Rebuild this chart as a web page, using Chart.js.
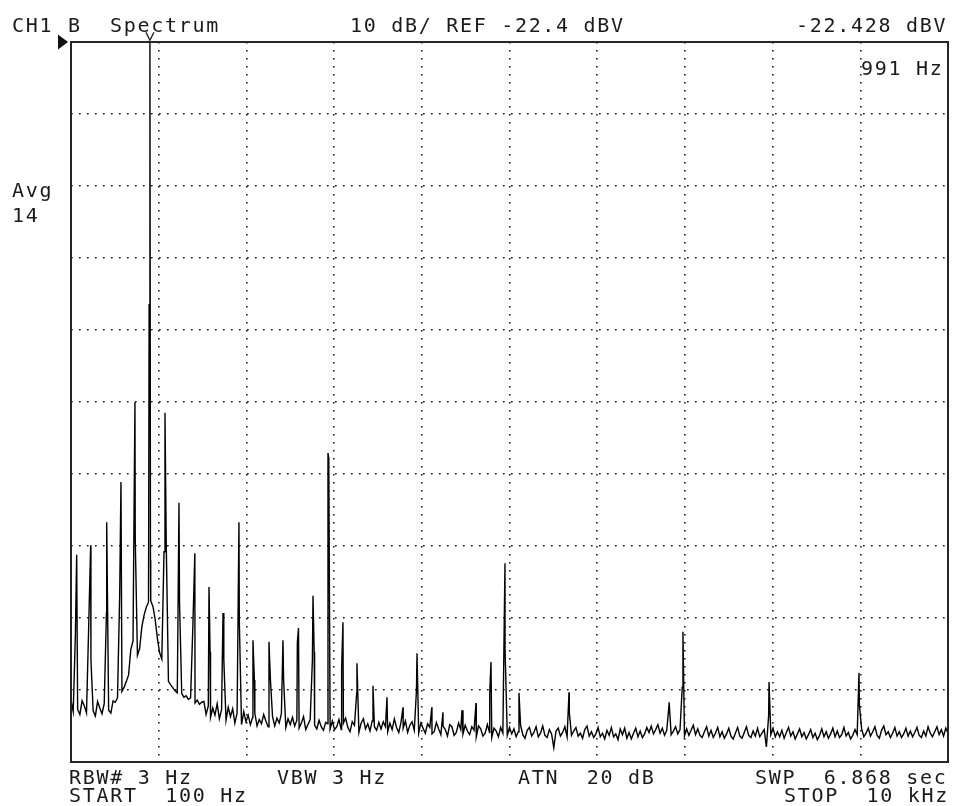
<!DOCTYPE html>
<html>
<head>
<meta charset="utf-8">
<script src="https://cdn.jsdelivr.net/npm/chart.js@4/dist/chart.umd.min.js"></script>
<style>html,body{margin:0;padding:0;background:#fff}canvas{display:block}</style>
</head>
<body>
<canvas id="c" width="953" height="806"></canvas>
<script>
// ---- data (HP-style spectrum screen) ----
const startHz = 100;
const stopHz = 10000;
const floorStepHz = 25;
// trace level every 25 Hz from 100 Hz to 10 kHz (dBV)
const floorDbv = [
 -113.8,-115.4,-104.5,-115.1,-115.8,-113.9,-114.6,-115.6,-103.4,-108.2,-115.3,-116.0,-114.0,-114.9,-115.7,-114.3,-101.7,-115.2,-115.6,-113.9,
 -114.1,-113.5,-98.9,-112.6,-112.0,-111.2,-110.3,-106.8,-105.6,-91.3,-107.6,-106.6,-103.6,-102.0,-100.9,-100.2,-100.0,-100.8,-102.6,-105.2,
 -107.2,-108.1,-93.2,-92.0,-111.2,-111.7,-112.1,-112.5,-112.8,-100.2,-112.9,-113.4,-113.2,-113.7,-113.5,-103.8,-114.2,-113.8,-114.4,-114.1,
 -114.0,-115.8,-114.6,-116.2,-114.9,-115.9,-114.3,-116.4,-115.1,-108.2,-116.6,-114.8,-116.1,-115.0,-117.0,-115.6,-102.7,-117.2,-115.4,-116.8,
 -115.9,-117.2,-116.2,-115.6,-117.4,-116.5,-117.1,-115.8,-116.7,-117.5,-110.7,-116.1,-117.4,-116.3,-117.0,-115.7,-111.0,-117.6,-116.4,-117.2,
 -116.2,-117.4,-116.6,-117.7,-117.0,-116.1,-117.9,-117.2,-116.5,-108.2,-117.3,-117.8,-116.6,-117.5,-118.0,-116.9,-117.1,-117.8,-116.7,-117.9,
 -117.5,-116.5,-117.9,-117.0,-116.3,-117.6,-118.2,-116.8,-117.3,-112.8,-118.3,-117.0,-116.4,-117.8,-117.1,-118.1,-116.7,-117.5,-118.0,-116.9,
 -117.8,-116.8,-117.5,-118.2,-117.0,-117.9,-116.4,-117.6,-118.3,-116.9,-117.7,-116.7,-118.3,-117.3,-116.8,-118.0,-112.4,-118.4,-117.0,-117.7,
 -118.4,-117.1,-117.6,-118.5,-118.2,-116.9,-117.8,-118.6,-117.4,-117.9,-118.8,-117.2,-117.5,-118.7,-118.3,-117.0,-117.9,-118.5,-117.3,-118.1,
 -118.6,-117.5,-118.0,-118.9,-117.4,-117.8,-118.8,-118.4,-117.2,-118.3,-119.0,-117.7,-118.1,-118.9,-117.6,-118.4,-106.8,-118.7,-117.6,-118.5,
 -117.8,-118.9,-118.2,-117.3,-118.6,-119.1,-118.0,-117.6,-118.8,-118.3,-117.5,-118.9,-118.4,-117.4,-118.7,-119.0,-117.9,-118.5,-120.4,-118.1,
 -117.7,-118.8,-118.3,-117.5,-118.9,-115.5,-118.7,-118.1,-117.6,-118.8,-118.4,-119.1,-117.9,-117.4,-118.8,-118.2,-119.0,-118.5,-117.6,-118.9,
 -118.4,-119.2,-118.0,-118.7,-117.6,-118.9,-118.5,-119.3,-117.8,-118.6,-117.7,-119.1,-118.3,-119.2,-118.4,-117.7,-118.9,-118.1,-119.0,-118.5,
 -117.6,-118.3,-117.4,-118.5,-117.9,-117.2,-118.4,-117.7,-118.7,-118.0,-114.6,-118.6,-118.1,-117.5,-118.5,-117.9,-112.0,-118.8,-117.8,-118.7,
 -118.0,-117.3,-118.6,-117.8,-118.7,-119.0,-118.2,-117.5,-118.8,-118.0,-119.0,-118.4,-117.6,-118.9,-118.2,-119.1,-118.5,-117.7,-118.8,-119.2,
 -118.4,-117.6,-118.8,-119.1,-118.3,-117.5,-118.7,-119.0,-118.1,-118.8,-117.7,-118.9,-118.4,-117.9,-120.3,-116.0,-118.6,-117.7,-118.9,-118.2,
 -118.9,-118.0,-119.1,-118.3,-117.6,-118.8,-118.2,-119.2,-118.5,-117.8,-118.9,-118.3,-119.2,-118.6,-117.9,-119.0,-118.4,-119.3,-118.7,-117.8,
 -118.9,-118.2,-119.1,-118.5,-117.7,-118.9,-118.1,-119.0,-118.6,-117.6,-118.8,-118.3,-119.2,-118.7,-117.9,-118.6,-114.5,-117.8,-118.9,-118.4,
 -117.7,-118.8,-118.2,-117.5,-118.7,-119.1,-118.0,-117.4,-118.6,-118.2,-119.0,-118.4,-117.6,-118.8,-118.2,-119.0,-118.5,-117.7,-118.8,-118.1,
 -118.9,-118.3,-117.6,-118.7,-119.0,-118.1,-118.8,-117.5,-118.4,-118.9,-118.2,-117.5,-118.6,-117.9,-118.8,-117.7,-118.4
];
// discrete spectral lines (Hz, dBV)
const peakHz = [164,322,503,664,822,982,991,997,1161,1319,1498,1658,1670,1816,1996,2154,2170,2335,2493,2655,2668,2832,2845,3001,3010,3155,3170,3328,3509,3667,3848,4006,4173,4299,4514,4672,4827,4841,4999,5157,5722,6852,7008,7980,8995];
const peakDbv = [-93.6,-92.3,-89.1,-83.5,-72.4,-58.9,-22.43,-94.3,-73.9,-86.4,-93.4,-98.1,-107.1,-101.7,-89.1,-105.5,-111.0,-105.7,-105.5,-105.8,-103.8,-99.3,-107.1,-79.5,-80.2,-109.2,-103.0,-108.7,-111.8,-113.4,-114.8,-107.3,-114.8,-115.5,-115.2,-114.2,-112.8,-108.5,-94.8,-112.8,-112.7,-114.1,-104.3,-111.3,-110.0];
const xTickHz = [100,1090,2080,3070,4060,5050,6040,7030,8020,9010,10000];
const yTickDbv = [-122.4,-112.4,-102.4,-92.4,-82.4,-72.4,-62.4,-52.4,-42.4,-32.4,-22.4];
const markerHz = 991;
const markerDbv = -22.428;

// ---- build trace table ----
const tracePoints = floorDbv.map((v, i) => ({x: startHz + i * floorStepHz, y: v}));
peakHz.forEach((f, i) => tracePoints.push({x: f, y: peakDbv[i]}));
tracePoints.sort((a, b) => a.x - b.x);

const FONT = '20px "DejaVu Sans Mono", monospace';
const screenTexts = [
  ['CH1', 12, 31.5], ['B', 68, 31.5], ['Spectrum', 110, 31.5],
  ['10 dB/ REF -22.4 dBV', 350, 31.5], ['-22.428 dBV', 796, 31.5],
  ['991 Hz', 861, 75],
  ['Avg', 12, 196.5], ['14', 12, 222],
  ['RBW# 3 Hz', 69, 783.5], ['VBW 3 Hz', 277, 783.5], ['ATN  20 dB', 518, 783.5], ['SWP  6.868 sec', 755, 783.5],
  ['START  100 Hz', 69, 802], ['STOP  10 kHz', 784, 802]
];

const screenPlugin = {
  id: 'screen',
  afterDraw(chart) {
    const {ctx, chartArea: a, scales} = chart;
    ctx.save();
    // frame
    ctx.strokeStyle = '#262626';
    ctx.lineWidth = 2;
    ctx.strokeRect(a.left, a.top, a.right - a.left, a.bottom - a.top);
    // reference-level arrow
    ctx.fillStyle = '#111';
    ctx.beginPath();
    ctx.moveTo(a.left - 13, a.top - 7.5);
    ctx.lineTo(a.left - 3, a.top);
    ctx.lineTo(a.left - 13, a.top + 7.5);
    ctx.closePath();
    ctx.fill();
    // marker
    const mx = scales.x.getPixelForValue(markerHz);
    const my = scales.y.getPixelForValue(markerDbv);
    ctx.strokeStyle = '#222';
    ctx.lineWidth = 1.4;
    ctx.beginPath();
    ctx.moveTo(mx - 4, my - 10);
    ctx.lineTo(mx, my - 2);
    ctx.lineTo(mx + 4, my - 10);
    ctx.stroke();
    // texts
    ctx.fillStyle = '#1a1a1a';
    ctx.font = FONT;
    ctx.letterSpacing = '1.7px';
    ctx.textBaseline = 'alphabetic';
    ctx.textAlign = 'left';
    screenTexts.forEach(([t, x, y]) => ctx.fillText(t, x, y));
    ctx.restore();
  }
};

new Chart(document.getElementById('c'), {
  type: 'line',
  data: {
    datasets: [{
      data: tracePoints,
      borderColor: '#000',
      borderWidth: 1.4,
      pointRadius: 0,
      tension: 0,
      fill: false
    }]
  },
  options: {
    responsive: false,
    animation: false,
    devicePixelRatio: 1,
    layout: {padding: {left: 71, top: 42, right: 5, bottom: 44}},
    plugins: {legend: {display: false}, tooltip: {enabled: false}, title: {display: false}},
    scales: {
      x: {
        type: 'linear', min: startHz, max: stopHz,
        afterBuildTicks: s => { s.ticks = xTickHz.map(v => ({value: v})); },
        afterFit: s => { s.height = 0; },
        ticks: {display: false},
        grid: {color: '#1e1e1e', lineWidth: 1.6, drawTicks: false},
        border: {display: false, dash: [1.6, 6.4]}
      },
      y: {
        type: 'linear', min: yTickDbv[0], max: yTickDbv[yTickDbv.length - 1],
        afterBuildTicks: s => { s.ticks = yTickDbv.map(v => ({value: v})); },
        afterFit: s => { s.width = 0; },
        ticks: {display: false},
        grid: {color: '#1e1e1e', lineWidth: 1.6, drawTicks: false},
        border: {display: false, dash: [1.6, 6.4]}
      }
    }
  },
  plugins: [screenPlugin]
});
</script>
</body>
</html>
